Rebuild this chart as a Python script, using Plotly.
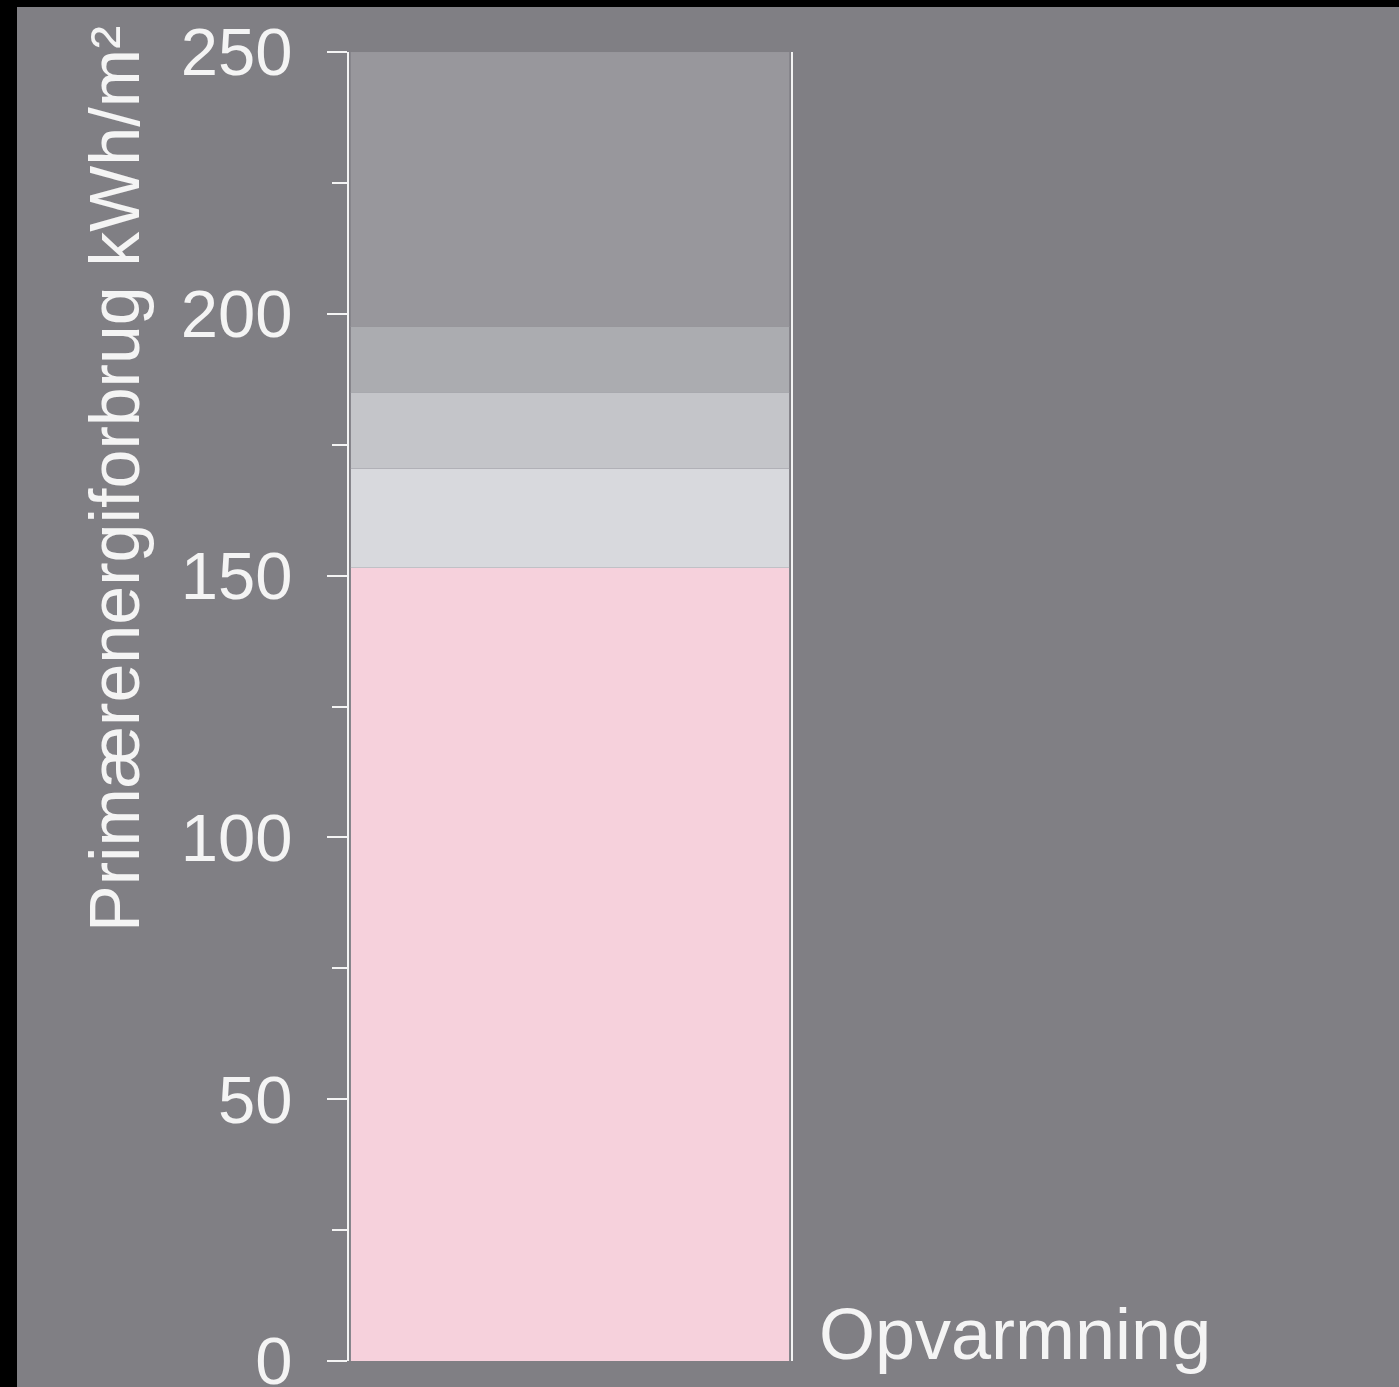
import plotly.graph_objects as go

# Data (stacked segments, bottom to top)
category = ["Opvarmning"]
segment_names = ["Opvarmning", "Segment 2", "Segment 3", "Segment 4", "Segment 5"]
segment_values = [151.5, 19.0, 14.5, 12.5, 52.5]
segment_colors = ["#f6d1dc", "#d8d9dd", "#c4c5c9", "#abacb0", "#98979c"]

y_title = "Primærenergiforbrug kWh/m²"
y_ticks = [0, 50, 100, 150, 200, 250]

W, H = 1399, 1387
L, R, T, B = 349, W - 791, 52, 26
pw, ph = W - L - R, H - T - B

def px_x(x):
    return (x - L) / pw

def px_y(y):
    return (H - B - y) / ph

BG = "#807f84"
WHITE = "#f4f4f4"
FONT = "Liberation Sans, Arial, Helvetica, sans-serif"

fig = go.Figure()
for name, val, col in zip(segment_names, segment_values, segment_colors):
    fig.add_trace(go.Bar(
        x=category, y=[val], name=name,
        marker=dict(color=col, line=dict(color="rgba(150,150,156,0.35)", width=1)),
        showlegend=False, hoverinfo="skip",
    ))

fig.update_layout(
    width=W, height=H,
    barmode="stack", bargap=0.008,
    paper_bgcolor="black", plot_bgcolor=BG,
    margin=dict(l=L, r=R, t=T, b=B, pad=0, autoexpand=False),
    showlegend=False,
    font=dict(family=FONT, color=WHITE),
    xaxis=dict(showticklabels=False, showline=False, showgrid=False,
               zeroline=False, ticks="", automargin=False),
    yaxis=dict(range=[0, 250], tickvals=y_ticks, ticks="outside", ticklen=20,
               tickwidth=2, tickcolor=WHITE, showline=True, linecolor=WHITE,
               linewidth=2, mirror=True, showgrid=False, zeroline=False,
               automargin=False,
               tickfont=dict(size=67, color=WHITE, family=FONT),
               ticklabelstandoff=21, ticklabeloverflow="allow",
               minor=dict(dtick=25, tick0=25, ticks="outside", ticklen=15,
                          tickwidth=2, tickcolor=WHITE, showgrid=False)),
    shapes=[dict(type="rect", xref="paper", yref="paper",
                 x0=px_x(17), x1=px_x(W + 50), y0=px_y(H + 50), y1=px_y(7),
                 fillcolor=BG, line=dict(width=0), layer="below")],
    annotations=[
        dict(text=y_title, xref="paper", yref="paper", x=px_x(115), y=px_y(479),
             xanchor="center", yanchor="middle", textangle=-90, showarrow=False,
             font=dict(size=70, color=WHITE, family=FONT)),
        dict(text=category[0], xref="paper", yref="y", x=px_x(817), y=0,
             xanchor="left", yanchor="bottom", yshift=-15, showarrow=False,
             font=dict(size=72, color=WHITE, family=FONT)),
    ],
)

fig.write_html("out.html")
